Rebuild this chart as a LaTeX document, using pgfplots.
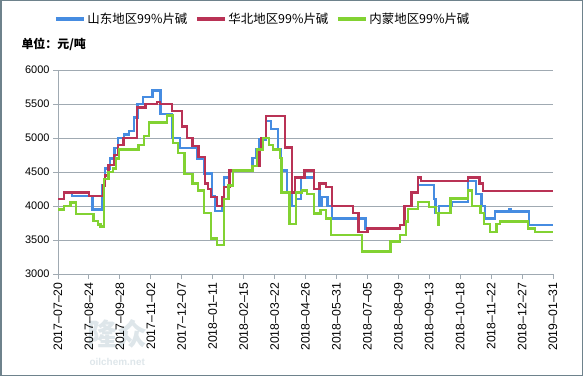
\documentclass[border=0pt]{standalone}
\usepackage{pgfplots}
\pgfplotsset{compat=1.18}
\usepackage{fontspec}
\setmainfont{Liberation Sans}
\newfontfamily\cjk{Noto Sans CJK SC}
\definecolor{cblue}{RGB}{70,140,225}
\definecolor{cred}{RGB}{185,50,85}
\definecolor{cgreen}{RGB}{130,210,50}
\definecolor{gridc}{RGB}{160,170,178}
\definecolor{framec}{RGB}{110,130,140}
\definecolor{wmark}{RGB}{222,230,234}
\begin{document}
\begin{tikzpicture}
\node[text=wmark, font=\cjk\bfseries\fontsize{30}{30}\selectfont, anchor=west] at (84bp,42bp) {隆众};
\node[text=wmark, font=\bfseries\fontsize{10}{10}\selectfont, anchor=west] at (86bp,14bp) {oilchem.net};
\begin{axis}[
  name=ax,
  at={(58bp,102bp)}, anchor=south west,
  scale only axis, width=495bp, height=204bp,
  xmin=0, xmax=560, ymin=3000, ymax=6000,
  axis x line*=bottom, axis y line*=left,
  axis line style={gridc, line width=1bp},
  ytick={3000,3500,...,6000},
  ymajorgrids, major grid style={gridc, line width=0.9bp},
  xtick={0,35,...,560},
  xticklabels={2017--07--20,2017--08--24,2017--09--28,2017--11--02,2017--12--07,2018--01--11,2018--02--15,2018--03--22,2018--04--26,2018--05--31,2018--07--05,2018--08--09,2018--09--13,2018--10--18,2018--11--22,2018--12--27,2019--01--31},
  x tick label style={rotate=90, anchor=east, font=\fontsize{12.3}{13}\selectfont},
  y tick label style={font=\fontsize{11}{12}\selectfont},
  tick style={gridc, line width=0.9bp}, tick align=outside, major tick length=5bp,
  /pgf/number format/assume math mode=true, /pgf/number format/1000 sep={},
  legend columns=3,
  legend style={draw=none, fill=none, at={(0.414,1.25)}, anchor=center,
    font=\cjk\fontsize{12.5}{14}\selectfont,
    /tikz/every even column/.append style={column sep=6bp}},
  legend image code/.code={\draw[#1, line width=3bp] (0bp,0bp) -- (28bp,0bp);},
  every axis plot/.append style={line width=2.3bp, const plot mark left},
]
\addplot[cblue] coordinates {(0,4100) (7,4200) (16,4150) (39,3950) (50,4300) (53,4550) (59,4700) (64,4850) (68,5000) (75,5050) (80,5100) (86,5300) (90,5500) (96,5600) (107,5700) (114,5700) (116,5350) (129,5000) (138,4850) (157,4700) (165,4480) (174,4150) (178,3930) (186,4000) (188,4420) (194,4520) (220,4710) (224,4830) (228,4980) (235,5250) (241,5130) (249,4830) (252,4520) (259,4200) (265,4000) (269,4100) (275,4420) (290,4250) (296,4000) (298,4130) (305,4000) (310,3815) (348,3670) (387,3720) (392,4000) (400,4200) (407,4310) (425,4100) (427,3900) (431,4000) (446,4060) (464,4370) (473,4180) (479,4000) (483,3815) (494,3920) (510,3960) (512,3920) (533,3720) (560,3720)};
\addlegendentry{山东地区99\%片碱}
\addplot[cred] coordinates {(0,4100) (7,4200) (35,4150) (51,4300) (53,4450) (57,4600) (63,4750) (68,4900) (74,5000) (89,5450) (99,5500) (112,5530) (115,5500) (129,5400) (140,5170) (146,5000) (152,4880) (159,4720) (166,4330) (170,4250) (173,4130) (180,4000) (186,4130) (188,4280) (194,4520) (220,4590) (228,4830) (230,5000) (235,5320) (257,4860) (265,4200) (268,4420) (279,4520) (290,4250) (296,4330) (303,4280) (310,4000) (334,3900) (340,3620) (350,3670) (387,3720) (392,4000) (400,4200) (407,4420) (411,4370) (464,4420) (477,4330) (481,4220) (560,4220)};
\addlegendentry{华北地区99\%片碱}
\addplot[cgreen] coordinates {(0,3950) (7,4000) (14,4050) (20,3880) (40,3780) (45,3730) (48,3700) (52,4400) (57,4500) (62,4550) (66,4700) (69,4830) (91,4900) (97,5030) (103,5230) (123,5330) (130,4930) (136,4780) (143,4470) (152,4330) (158,4230) (165,3900) (173,3520) (180,3430) (188,4100) (193,4300) (198,4520) (220,4590) (225,4830) (232,5000) (239,4900) (243,4830) (251,4710) (253,4200) (262,3740) (269,4200) (276,4230) (282,4180) (290,3890) (297,3940) (303,3815) (309,3570) (344,3330) (376,3480) (387,3570) (394,3770) (396,3960) (407,4060) (420,3990) (428,3900) (430,3720) (431,3900) (444,4110) (464,4230) (468,4000) (478,3900) (482,3740) (489,3620) (496,3740) (500,3770) (532,3670) (540,3620) (560,3620)};
\addlegendentry{内蒙地区99\%片碱}
\end{axis}
\node[anchor=west, font=\cjk\bfseries\fontsize{12}{14}\selectfont] at ([xshift=-40bp, yshift=26bp]ax.north west) {单位：元/吨};
\draw[framec, line width=1.5bp] (0.75bp,0.75bp) rectangle (582.25bp,375.25bp);
\pgfresetboundingbox
\useasboundingbox (0,0) rectangle (583bp,376bp);
\end{tikzpicture}
\end{document}
